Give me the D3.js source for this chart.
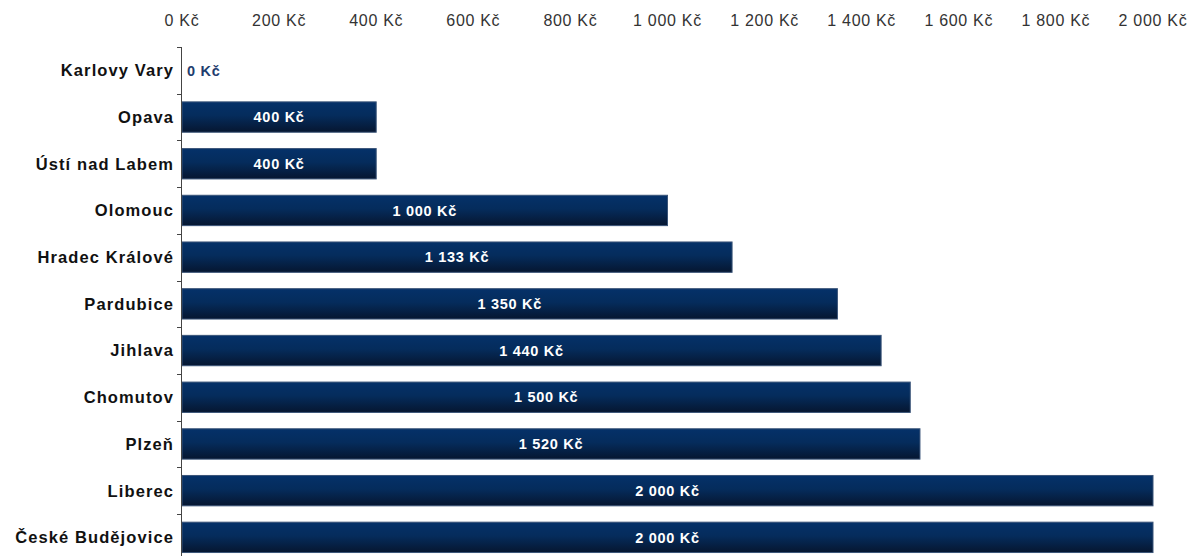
<!DOCTYPE html>
<html>
<head>
<meta charset="utf-8">
<script src="https://cdn.jsdelivr.net/npm/d3@7"></script>
<style>
  html, body { margin: 0; padding: 0; background: #fff; }
  svg { display: block; font-family: "Liberation Sans", Arial, sans-serif; }
</style>
</head>
<body>
<svg id="chart" width="1195" height="556"></svg>
<script>
// Cities and their amounts (Kč)
const cities = ["Karlovy Vary", "Opava", "Ústí nad Labem", "Olomouc", "Hradec Králové",
  "Pardubice", "Jihlava", "Chomutov", "Plzeň", "Liberec", "České Budějovice"];
const amounts = [0, 400, 400, 1000, 1133, 1350, 1440, 1500, 1520, 2000, 2000];
const tickValues = [0, 200, 400, 600, 800, 1000, 1200, 1400, 1600, 1800, 2000];

const locale = d3.formatLocale({ decimal: ",", thousands: "\u00a0", grouping: [3], currency: ["", " Kč"] });
const fmt = v => locale.format(",.0f")(v).replace(/\u00a0/g, " ") + " Kč";

const svg = d3.select("#chart");
const x = d3.scaleLinear().domain([0, 2000]).range([182, 1153]);
const y = d3.scaleBand().domain(cities).range([47, 47 + 46.7 * cities.length])
  .paddingInner(0.35).paddingOuter(0.175);

// bar fill gradient
const defs = svg.append("defs");
const grad = defs.append("linearGradient").attr("id", "barGrad")
  .attr("x1", 0).attr("y1", 0).attr("x2", 0).attr("y2", 1);
grad.append("stop").attr("offset", "0%").attr("stop-color", "#053169");
grad.append("stop").attr("offset", "45%").attr("stop-color", "#052c5c");
grad.append("stop").attr("offset", "100%").attr("stop-color", "#061630");

// top value axis (labels only)
svg.append("g").selectAll("text").data(tickValues).join("text")
  .attr("x", d => x(d)).attr("y", 26)
  .attr("text-anchor", "middle")
  .attr("font-size", 16).attr("letter-spacing", 0.7).attr("fill", "#333")
  .text(fmt);

// bars
svg.append("g").selectAll("rect").data(cities).join("rect")
  .attr("x", x(0))
  .attr("y", d => y(d))
  .attr("width", (d, i) => x(amounts[i]) - x(0))
  .attr("height", y.bandwidth())
  .attr("fill", "url(#barGrad)")
  .attr("stroke", "#3a5478").attr("stroke-width", 1)
  .attr("display", (d, i) => amounts[i] > 0 ? null : "none");

// value labels
svg.append("g").selectAll("text").data(cities).join("text")
  .attr("x", (d, i) => amounts[i] > 0 ? (x(0) + x(amounts[i])) / 2 : x(0) + 5)
  .attr("y", d => y(d) + y.bandwidth() / 2)
  .attr("dy", "0.36em")
  .attr("text-anchor", (d, i) => amounts[i] > 0 ? "middle" : "start")
  .attr("font-size", 14.5).attr("font-weight", "bold").attr("letter-spacing", 0.7)
  .attr("fill", (d, i) => amounts[i] > 0 ? "#fff" : "#1f3d6e")
  .text((d, i) => fmt(amounts[i]));

// category axis
const step = y.step();
const bounds = d3.range(cities.length + 1).map(i => 47 + i * step);
const axis = svg.append("g");
axis.append("line")
  .attr("x1", 181.5).attr("x2", 181.5)
  .attr("y1", 47).attr("y2", 47 + step * cities.length)
  .attr("stroke", "#444").attr("stroke-width", 1);
axis.selectAll("line.tick").data(bounds).join("line").attr("class", "tick")
  .attr("x1", 177).attr("x2", 181.5)
  .attr("y1", d => Math.round(d) + 0.5).attr("y2", d => Math.round(d) + 0.5)
  .attr("stroke", "#444").attr("stroke-width", 1);
axis.selectAll("text").data(cities).join("text")
  .attr("x", 174)
  .attr("y", d => y(d) + y.bandwidth() / 2)
  .attr("dy", "0.36em")
  .attr("text-anchor", "end")
  .attr("font-size", 16.5).attr("font-weight", "bold").attr("letter-spacing", 1.1)
  .attr("fill", "#111")
  .text(d => d);
</script>
</body>
</html>
